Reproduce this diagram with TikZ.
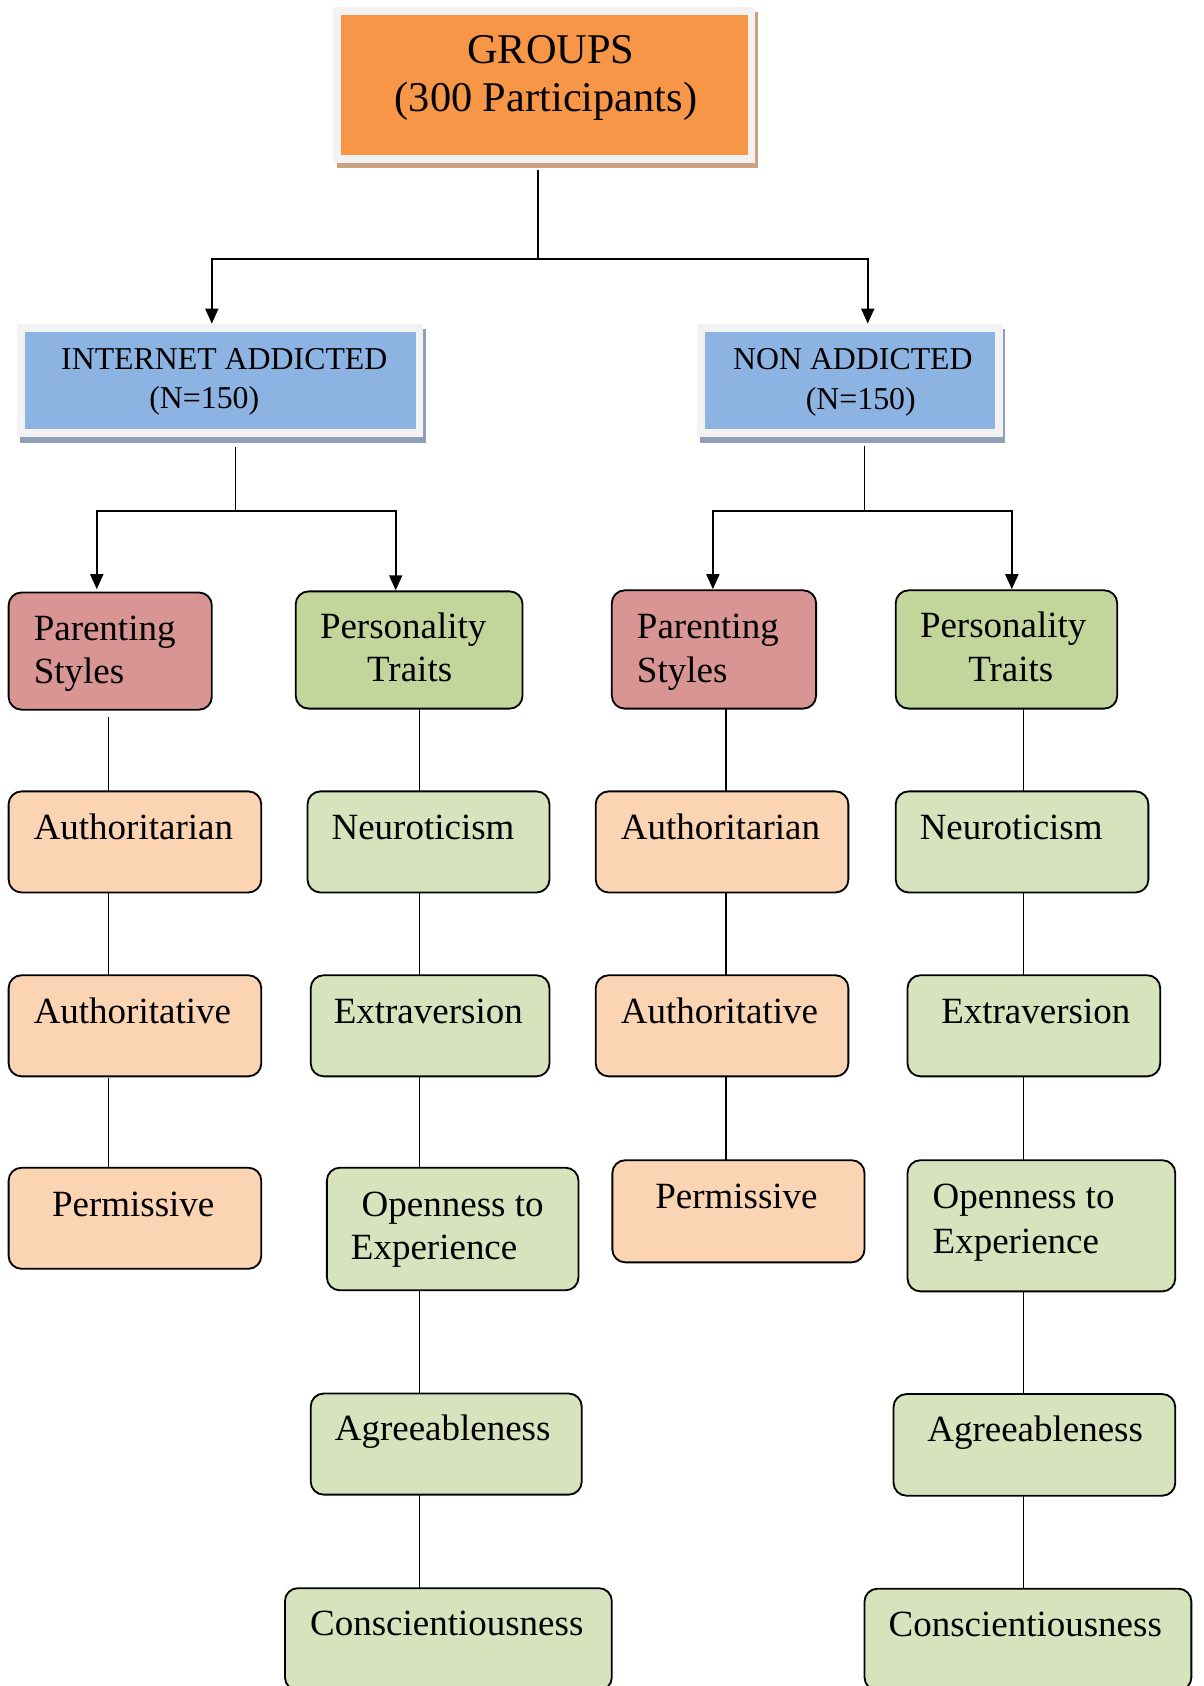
\documentclass[tikz,border=0pt]{standalone}
\usepackage{fontspec}
\setmainfont{Liberation Serif}
\usetikzlibrary{fit,arrows.meta}
\definecolor{orangebox}{HTML}{F79646}
\definecolor{framegrey}{HTML}{F2F2F2}
\definecolor{tanshadow}{HTML}{CDA27F}
\definecolor{bluebox}{HTML}{8DB3E2}
\definecolor{blueshadow}{HTML}{8E9FB6}
\definecolor{redbox}{HTML}{D99594}
\definecolor{greenbox}{HTML}{C2D69B}
\definecolor{peachbox}{HTML}{FBD4B4}
\definecolor{lightgreen}{HTML}{D6E3BC}
\tikzset{
  plain/.style={inner sep=0pt, outer sep=0pt},
  cbox/.style={draw=black, line width=0.85pt, rounded corners=6pt, inner sep=0pt, outer sep=0pt},
  treeline/.style={line width=0.9pt},
  arr/.style={line width=1pt, -{Triangle[width=6pt,length=7pt]}},
  chainline/.style={line width=0.75pt},
  lbl/.style={inner sep=0pt, anchor=base west, font=\fontsize{17.2}{20}\selectfont},
  lblc/.style={lbl, anchor=base},
  grplbl/.style={inner sep=0pt, anchor=base, font=\fontsize{19.7}{23}\selectfont},
  sublbl/.style={inner sep=0pt, anchor=base, font=\fontsize{14.8}{18}\selectfont},
}
\begin{document}
\begin{tikzpicture}[x=0.5pt,y=-0.5pt]
\useasboundingbox (0,0) rectangle (1119,1568);
\clip (0,0) rectangle (1119,1568);
\fill[white] (0,0) rectangle (1119,1568);

% ---- top box
\fill[tanshadow] (313,11) rectangle (705,156.5);
\node[plain, fill=framegrey, fit={(310,6.5)(702,152)}] (groupsframe) {};
\node[plain, fill=orangebox, fit={(317,14)(696,144)}] (groups) {};
\node[grplbl] (groupsA) at (512.4,58.8) {GROUPS};
\node[grplbl] (groupsB) at (507.7,103.9) {(300 Participants)};

% ---- second level boxes
\fill[blueshadow] (19,306) rectangle (396,412);
\node[plain, fill=framegrey, fit={(16,301)(393,406.5)}] (iaframe) {};
\node[plain, fill=bluebox, fit={(23,309)(387,399)}] (ia) {};
\node[sublbl] (iaA) at (208.6,344) {INTERNET ADDICTED};
\node[sublbl] (iaB) at (190,380) {(N=150)};

\fill[blueshadow] (651,306) rectangle (935,412);
\node[plain, fill=framegrey, fit={(648,301)(933,406.5)}] (naframe) {};
\node[plain, fill=bluebox, fit={(656,309)(925.5,399)}] (na) {};
\node[sublbl] (naA) at (793.2,344) {NON ADDICTED};
\node[sublbl] (naB) at (800.5,381) {(N=150)};

% ---- top tree
\coordinate (gsplit) at (500,241);
\coordinate (iaIn) at (197,301);
\coordinate (naIn) at (807,301);
\draw[treeline] ([yshift=-3pt]groupsframe.south -| gsplit) -- (gsplit);
\draw[arr] (gsplit) -| (iaIn);
\draw[arr] (gsplit) -| (naIn);

% ---- left (internet addicted) boxes
\node[cbox, fill=redbox, fit={(8,551)(197,660)}] (psL) {};
\node[lbl] (psLa) at (31,596) {Parenting};
\node[lbl] (psLb) at (31,636) {Styles};
\node[cbox, fill=greenbox, fit={(275,550)(486,659)}] (ptL) {};
\node[lblc] (ptLa) at (375,594) {Personality};
\node[lblc] (ptLb) at (381,634) {Traits};

\node[cbox, fill=peachbox, fit={(8,736)(243,830)}] (autL) {};
\node[lbl] (autLt) at (31,781) {Authoritarian};
\node[cbox, fill=peachbox, fit={(8,907)(243,1001)}] (atvL) {};
\node[lbl] (atvLt) at (31,952) {Authoritative};
\node[cbox, fill=peachbox, fit={(8,1086)(243,1180)}] (perL) {};
\node[lbl] (perLt) at (48,1131) {Permissive};

\node[cbox, fill=lightgreen, fit={(286,736)(511,830)}] (neuL) {};
\node[lbl] (neuLt) at (308,781) {Neuroticism};
\node[cbox, fill=lightgreen, fit={(289,907)(511,1001)}] (extL) {};
\node[lbl] (extLt) at (310,952) {Extraversion};
\node[cbox, fill=lightgreen, fit={(304,1086)(538,1200)}] (opeL) {};
\node[lbl] (opeLa) at (336,1131) {Openness to};
\node[lbl] (opeLb) at (326,1171) {Experience};
\node[cbox, fill=lightgreen, fit={(289,1296)(541,1390)}] (agrL) {};
\node[lbl] (agrLt) at (311,1340) {Agreeableness};
\node[cbox, fill=lightgreen, fit={(265,1477)(569,1572)}] (conL) {};
\node[lbl] (conLt) at (288,1521) {Conscientiousness};

% ---- right (non addicted) boxes
\node[cbox, fill=redbox, fit={(569,549)(759,659)}] (psR) {};
\node[lbl] (psRa) at (592,594) {Parenting};
\node[lbl] (psRb) at (592,635) {Styles};
\node[cbox, fill=greenbox, fit={(833,549)(1039,659)}] (ptR) {};
\node[lblc] (ptRa) at (933,593) {Personality};
\node[lblc] (ptRb) at (940,634) {Traits};

\node[cbox, fill=peachbox, fit={(554,736)(789,830)}] (autR) {};
\node[lbl] (autRt) at (577,781) {Authoritarian};
\node[cbox, fill=peachbox, fit={(554,907)(789,1001)}] (atvR) {};
\node[lbl] (atvRt) at (577,952) {Authoritative};
\node[cbox, fill=peachbox, fit={(569.5,1079)(804,1174)}] (perR) {};
\node[lbl] (perRt) at (609,1124) {Permissive};

\node[cbox, fill=lightgreen, fit={(833,736)(1068,830)}] (neuR) {};
\node[lbl] (neuRt) at (855,781) {Neuroticism};
\node[cbox, fill=lightgreen, fit={(844,907)(1079,1001)}] (extR) {};
\node[lbl] (extRt) at (875,952) {Extraversion};
\node[cbox, fill=lightgreen, fit={(844,1079)(1093,1201)}] (opeR) {};
\node[lbl] (opeRa) at (867,1124) {Openness to};
\node[lbl] (opeRb) at (867,1166) {Experience};
\node[cbox, fill=lightgreen, fit={(831,1296.5)(1093,1391)}] (agrR) {};
\node[lbl] (agrRt) at (862,1340.5) {Agreeableness};
\node[cbox, fill=lightgreen, fit={(804,1477.5)(1108,1572)}] (conR) {};
\node[lbl] (conRt) at (826,1522) {Conscientiousness};

% ---- second level tree
\coordinate (iaSplit) at (219,475);
\coordinate (psLIn) at (90,548);
\coordinate (ptLIn) at (368,549);
\draw[treeline] ([yshift=-4.5pt]iaframe.south -| iaSplit) -- (iaSplit);
\draw[arr] (iaSplit) -| (psLIn);
\draw[arr] (iaSplit) -| (ptLIn);

\coordinate (naSplit) at (804,475);
\coordinate (psRIn) at (663,548);
\coordinate (ptRIn) at (941,548);
\draw[treeline] ([yshift=-4pt]naframe.south -| naSplit) -- (naSplit);
\draw[arr] (naSplit) -| (psRIn);
\draw[arr] (naSplit) -| (ptRIn);

% ---- chains
\coordinate (cxL) at (101,0);
\coordinate (cyL) at (390,0);
\coordinate (cxR) at (675,0);
\coordinate (cyR) at (952,0);
\draw[chainline] ([yshift=-3.5pt]psL.south -| cxL) -- (autL.north -| cxL);
\draw[chainline] (autL.south -| cxL) -- (atvL.north -| cxL);
\draw[chainline] ([yshift=-1pt]atvL.south -| cxL) -- (perL.north -| cxL);
\draw[chainline] (ptL.south -| cyL) -- (neuL.north -| cyL);
\draw[chainline] (neuL.south -| cyL) -- (extL.north -| cyL);
\draw[chainline] (extL.south -| cyL) -- (opeL.north -| cyL);
\draw[chainline] (opeL.south -| cyL) -- (agrL.north -| cyL);
\draw[chainline] (agrL.south -| cyL) -- (conL.north -| cyL);

\draw[chainline] (psR.south -| cxR) -- (autR.north -| cxR);
\draw[chainline] (autR.south -| cxR) -- (atvR.north -| cxR);
\draw[chainline] (atvR.south -| cxR) -- (perR.north -| cxR);
\draw[chainline] (ptR.south -| cyR) -- (neuR.north -| cyR);
\draw[chainline] (neuR.south -| cyR) -- (extR.north -| cyR);
\draw[chainline] (extR.south -| cyR) -- (opeR.north -| cyR);
\draw[chainline] (opeR.south -| cyR) -- (agrR.north -| cyR);
\draw[chainline] (agrR.south -| cyR) -- (conR.north -| cyR);
\end{tikzpicture}
\end{document}
